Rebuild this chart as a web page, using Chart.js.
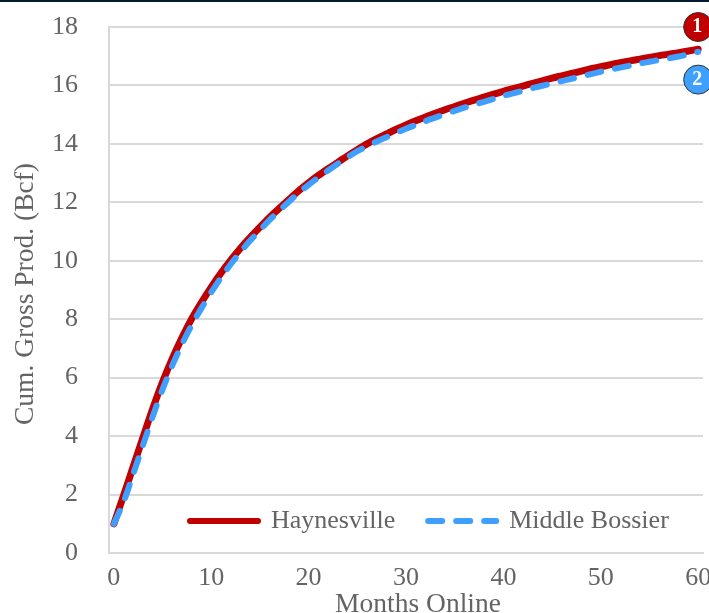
<!DOCTYPE html>
<html><head><meta charset="utf-8">
<style>html,body{margin:0;padding:0;background:#fff;overflow:hidden}
#bar{position:absolute;left:0;top:0;width:709px;height:2px;background:#05192f}
canvas{display:block}</style>
<script src="https://cdn.jsdelivr.net/npm/chart.js@4"></script></head>
<body><div id="bar"></div><canvas id="c" width="709" height="613"></canvas>
<script>
const months=[0,1,2,3,4,5,6,7,8,9,10,11,12,13,14,15,16,17,18,19,20,21,22,23,24,25,26,27,28,29,30,31,32,33,34,35,36,37,38,39,40,41,42,43,44,45,46,47,48,49,50,51,52,53,54,55,56,57,58,59,60];
const haynesville=[1.0,1.97,2.97,3.97,4.95,5.85,6.65,7.37,8.02,8.58,9.1,9.58,10.02,10.43,10.8,11.15,11.49,11.8,12.1,12.4,12.67,12.92,13.15,13.37,13.59,13.8,14.0,14.18,14.34,14.5,14.65,14.79,14.92,15.05,15.17,15.28,15.39,15.5,15.6,15.7,15.8,15.89,15.98,16.07,16.16,16.25,16.33,16.41,16.49,16.57,16.64,16.71,16.78,16.84,16.9,16.96,17.02,17.07,17.12,17.18,17.24];
const middleBossier=[1.0,1.75,2.72,3.7,4.68,5.6,6.42,7.15,7.8,8.38,8.92,9.42,9.88,10.3,10.69,11.05,11.4,11.72,12.03,12.33,12.6,12.85,13.09,13.32,13.54,13.75,13.92,14.08,14.23,14.38,14.52,14.65,14.78,14.9,15.02,15.13,15.24,15.34,15.44,15.54,15.64,15.73,15.82,15.91,15.99,16.07,16.15,16.23,16.31,16.39,16.47,16.54,16.61,16.68,16.75,16.81,16.87,16.93,16.99,17.07,17.15];
const yTicks=[0,2,4,6,8,10,12,14,16,18];
const marker1=months.map(m=>m===60?18:null);
const marker2=months.map(m=>m===60?16.2:null);
const grey='#646464', gridc='#d9d9d9', serif='"Liberation Serif", serif';
const layoutPlugin={id:'layoutTweaks',
  beforeLayout(chart){
    const l=chart.legend;
    if(l&&!l._w){l._w=1;const f=l.fit;l.fit=function(){f.call(this);this.height=0;};}
  },
  afterLayout(chart){
    const l=chart.legend, a=chart.chartArea;
    l.left=190-l.options.labels.padding; l.right=a.right+6; l.top=a.bottom-78; l.bottom=a.bottom;
    const x=chart.scales.x;
    if(!x._w){x._w=1;const d=x.drawTitle;x.drawTitle=function(ca){const s=this.left;this.left=s+24;d.call(this,ca);this.left=s;};}
    const y=chart.scales.y;
    if(!y._w){y._w=1;const d=y.drawTitle;y.drawTitle=function(ca){const s=this.top;this.top=s+8;d.call(this,ca);this.top=s;};}
  },
  afterDatasetsDraw(chart){
    const ctx=chart.ctx;
    chart.data.datasets.forEach((ds,i)=>{
      if(!ds.badge) return;
      const p=chart.getDatasetMeta(i).data[months.length-1];
      ctx.save();ctx.fillStyle='#fff';ctx.font='bold 20px '+serif;ctx.textAlign='center';ctx.textBaseline='middle';
      ctx.fillText(ds.badge,p.x-1,p.y);ctx.restore();
    });
  }};
new Chart(document.getElementById('c'),{type:'line',
  data:{labels:months,datasets:[
    {label:'Haynesville',data:haynesville,borderColor:'#c00000',backgroundColor:'#c00000',borderWidth:7,pointRadius:0,tension:0.3,borderCapStyle:'round',order:3},
    {label:'Middle Bossier',data:middleBossier,borderColor:'#3f9fff',backgroundColor:'#3f9fff',borderWidth:6,pointRadius:0,tension:0.3,borderDash:[14,14],borderCapStyle:'round',order:2},
    {label:'1',badge:'1',data:marker1,showLine:false,pointRadius:14.5,pointHoverRadius:14.5,pointBackgroundColor:'#c00000',pointBorderColor:'#333',pointBorderWidth:1,clip:false,order:1},
    {label:'2',badge:'2',data:marker2,showLine:false,pointRadius:14.5,pointHoverRadius:14.5,pointBackgroundColor:'#3f9fff',pointBorderColor:'#333',pointBorderWidth:1,clip:false,order:0}
  ]},
  options:{responsive:false,animation:false,
    layout:{autoPadding:false,padding:{left:0,right:6,top:27,bottom:0}},
    plugins:{tooltip:{enabled:false},
      legend:{position:'bottom',align:'start',
        labels:{usePointStyle:true,pointStyle:'line',pointStyleWidth:68,padding:33,color:grey,font:{family:serif,size:26},
          filter:it=>it.text.length>1,
          generateLabels(chart){return chart.data.datasets.map((d,i)=>({text:d.label,datasetIndex:i,strokeStyle:d.borderColor,fillStyle:d.borderColor,lineWidth:6,lineDash:d.borderDash||[],lineCap:'round',pointStyle:'line',fontColor:grey}));}}}},
    scales:{
      x:{type:'category',offset:true,
        afterFit(s){s.height=60;s.paddingLeft=0;s.paddingRight=0;},
        grid:{display:false},border:{display:true,color:gridc,width:2},
        ticks:{maxRotation:0,autoSkip:false,padding:2,color:grey,font:{family:serif,size:26},callback(v,i){return months[i]%10===0?months[i]:'';}},
        title:{display:true,text:'Months Online',color:grey,font:{family:serif,size:27.5},padding:{top:0,bottom:-8}}},
      y:{type:'linear',min:0,max:18,
        afterFit(s){s.width=109;s.paddingTop=0;s.paddingBottom=0;},
        afterBuildTicks(s){s.ticks=yTicks.map(v=>({value:v}));},
        grid:{color:gridc,lineWidth:2,drawTicks:false},border:{display:true,color:gridc,width:2},
        ticks:{padding:31,color:grey,font:{family:serif,size:26}},
        title:{display:true,text:'Cum. Gross Prod. (Bcf)',color:grey,font:{family:serif,size:27.5},padding:{top:9,bottom:0}}}
    }},
  plugins:[layoutPlugin]});
</script></body></html>
